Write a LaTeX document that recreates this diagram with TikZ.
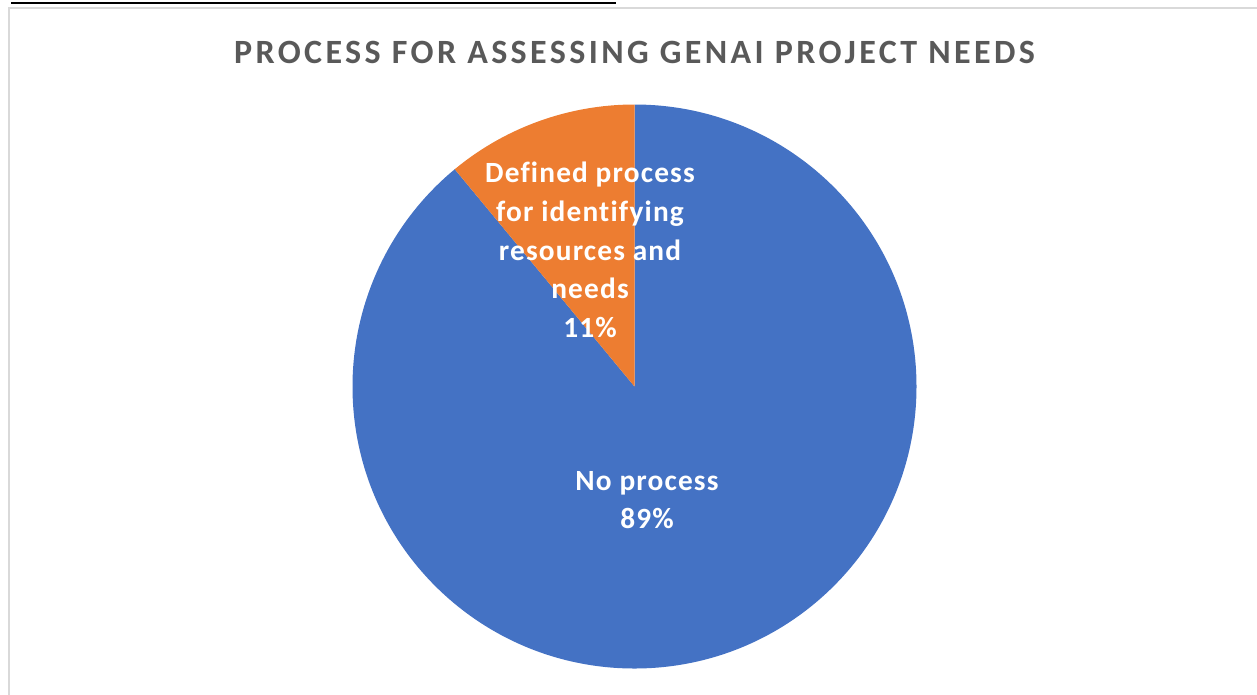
\documentclass[tikz,border=0pt]{standalone}
\usepackage{fontspec}
\setmainfont[Ligatures=NoCommon]{Carlito}
\definecolor{pieblue}{HTML}{4472C4}
\definecolor{pieorange}{HTML}{ED7D31}
\definecolor{titlegray}{HTML}{595959}
\definecolor{framegray}{HTML}{D9D9D9}
\begin{document}
\begin{tikzpicture}[x=0.75pt,y=-0.75pt,
	charttitle/.style={font=\bfseries\fontsize{25.5pt}{30pt}\selectfont\addfontfeatures{LetterSpace=10}, text=titlegray},
	slicelabel/.style={font=\bfseries\fontsize{22pt}{29pt}\selectfont\addfontfeatures{LetterSpace=4}, text=white, align=center}]
	\useasboundingbox (0,0) rectangle (1257,694);
	
	\coordinate (O) at (634.5,386.5); % centre of pie
	\coordinate (U1) at (11,3);
	\coordinate (U2) at (616,3);
	
	\draw[line width=1.5pt] (U1)--(U2);
	\draw[framegray, line width=1.5pt] (9,700)--(9,8)--(1262,8);
	
	% y axis points down, so the top of the pie is at -90
	\fill[pieblue] (O)--++(-90:282) arc (-90:230.4:282)--cycle;
	\fill[pieorange] (O)--++(-90:282) arc (-90:-129.6:282)--cycle;
	
	\node[charttitle] (title) at (634.5,52) {PROCESS FOR ASSESSING GENAI PROJECT NEEDS};
	\node[slicelabel] (defined) at (590,250) {Defined process\\for identifying\\resources and\\needs\\11\%};
	\node[slicelabel] (none) at (647,500) {No process\\89\%};
\end{tikzpicture}
\end{document}
